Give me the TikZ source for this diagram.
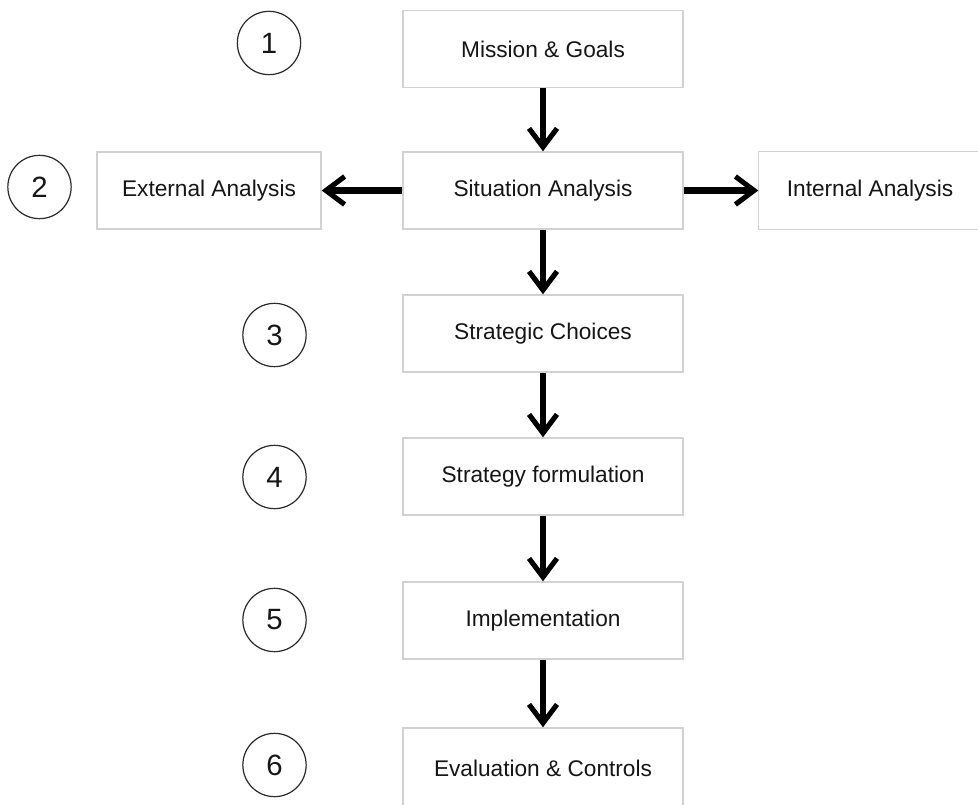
\documentclass[tikz,border=0pt]{standalone}
\usepackage{fontspec}
\setmainfont{Liberation Sans}
\usetikzlibrary{arrows.meta}
\definecolor{boxline}{HTML}{D2D2D2}
\definecolor{txt}{HTML}{161616}
\definecolor{circline}{HTML}{2A2A2A}
\begin{document}
\begin{tikzpicture}[x=0.75pt,y=-0.75pt,
  box/.style={draw=boxline,line width=1.1pt,fill=white,minimum height=57.75pt,inner sep=0pt,
    text=txt,font=\fontsize{17}{19}\selectfont},
  mainbox/.style={box,minimum width=210pt},
  num/.style={draw=circline,line width=0.9pt,circle,minimum size=47.5pt,inner sep=0pt,
    text=txt,font=\fontsize{22}{24}\selectfont},
  flow/.style={line width=4.8pt,-{Straight Barb[length=14pt,width=21pt,line width=3.8pt]}}]
\useasboundingbox[fill=white] (0,0) rectangle (978,805);
% boxes
\node[mainbox] (mission) at (543,49) {Mission \& Goals};
\node[mainbox] (situation) at (543,190.5) {Situation Analysis};
\node[box,minimum width=168pt] (external) at (209,190.5) {External Analysis};
\node[box,draw=none,minimum width=166.5pt] (internal) at (870,190.5) {Internal Analysis};
\draw[boxline,line width=1.1pt] ([xshift=40pt]internal.north east) -- (internal.north west)
  -- (internal.south west) -- ([xshift=40pt]internal.south east);
\node[mainbox] (choices) at (543,333.5) {Strategic Choices};
\node[mainbox] (formulation) at (543,476.5) {Strategy formulation};
\node[mainbox] (implementation) at (543,620.5) {Implementation};
\node[mainbox,minimum height=60pt] (evaluation) at (543,768) {Evaluation \& Controls};
% numbers
\node[num] (n1) at (269,43) {1};
\node[num] (n2) at (39.5,187) {2};
\node[num] (n3) at (274.5,335) {3};
\node[num] (n4) at (274.5,477) {4};
\node[num] (n5) at (274.5,620) {5};
\node[num] (n6) at (274.5,765) {6};
% arrows
\draw[flow] (mission.south) -- (situation.north);
\draw[flow] (situation.west) -- (external.east);
\draw[flow] (situation.east) -- (internal.west);
\draw[flow] (situation.south) -- (choices.north);
\draw[flow] (choices.south) -- (formulation.north);
\draw[flow] (formulation.south) -- (implementation.north);
\draw[flow] (implementation.south) -- (evaluation.north);
\end{tikzpicture}
\end{document}
